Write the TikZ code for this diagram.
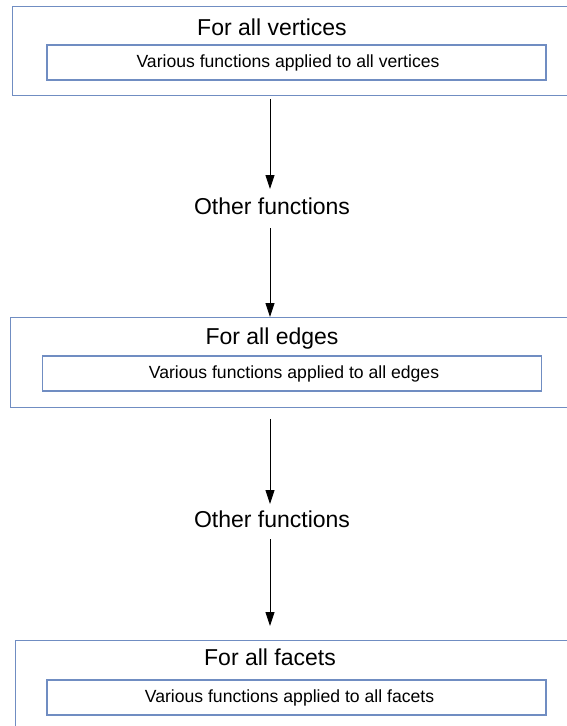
\documentclass[tikz,border=0pt]{standalone}
\usepackage{fontspec}
\setmainfont{Liberation Sans}
\usetikzlibrary{arrows.meta,calc}
\definecolor{frame}{RGB}{112,141,194}
\begin{document}
\begin{tikzpicture}[x=1pt,y=-1pt,
  outerbox/.style={draw=frame,line width=0.9pt,minimum width=580pt,anchor=north west,inner sep=0pt},
  innerbox/.style={draw=frame,line width=1.1pt,minimum width=499pt,minimum height=35pt,inner sep=0pt,
    font=\fontsize{17.6pt}{20pt}\selectfont},
  title/.style={font=\fontsize{23pt}{27pt}\selectfont,inner sep=0pt},
  midlabel/.style={font=\fontsize{23pt}{27pt}\selectfont,inner sep=0pt},
  arr/.style={line width=0.9pt,-{Triangle[length=14pt,width=9pt]}}]
  \clip (0,0) rectangle (567,726);
  \fill[white] (0,0) rectangle (567,726);

  % three stages
  \node[outerbox,minimum height=89pt] (v) at (12,6) {};
  \node[title] (vt) at (272,27) {For all vertices};
  \node[innerbox] (vi) at (296.5,62.5) {\hspace*{-17pt}Various functions applied to all vertices};

  \node[outerbox,minimum height=90pt] (e) at (10,317) {};
  \node[title] (et) at (272,339) {For all edges};
  \node[innerbox] (ei) at (292,373.5) {\hspace*{4pt}Various functions applied to all edges};

  \node[outerbox,minimum height=120pt] (f) at (15,640) {};
  \node[title] (ft) at (270,657) {For all facets};
  \node[innerbox] (fi) at (296.5,697.5) {\hspace*{-14pt}Various functions applied to all facets};

  % intermediate steps
  \coordinate (ax) at (270,0);
  \node[midlabel] (o1) at (272,206) {Other functions};
  \node[midlabel] (o2) at (272,519) {Other functions};

  \draw[arr] ([yshift=-3pt]v.south -| ax) -- ($(o1.center -| ax)+(0,-17)$);
  \draw[arr] ($(o1.center -| ax)+(0,22)$) -- (e.north -| ax);
  \draw[arr] ([yshift=-11pt]e.south -| ax) -- ($(o2.center -| ax)+(0,-15)$);
  \draw[arr] ($(o2.center -| ax)+(0,20)$) -- ([yshift=14pt]f.north -| ax);
\end{tikzpicture}
\end{document}
